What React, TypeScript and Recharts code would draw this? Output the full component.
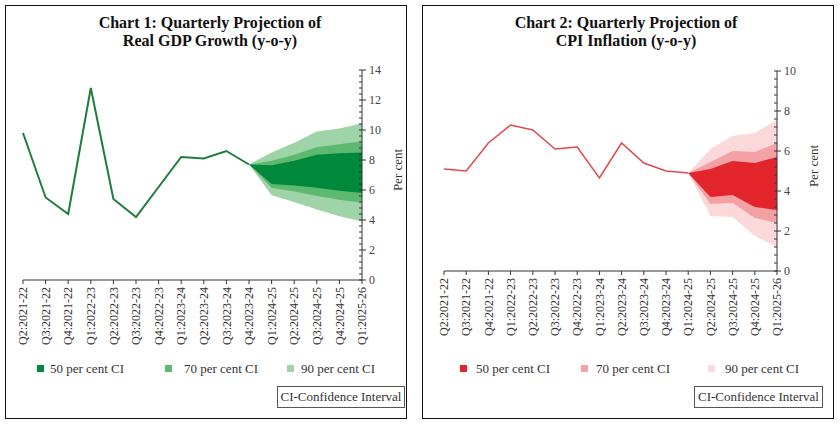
import React from 'react'
import { ComposedChart, Line, Area, XAxis, YAxis } from 'recharts'

const categories = [
  'Q2:2021-22', 'Q3:2021-22', 'Q4:2021-22', 'Q1:2022-23', 'Q2:2022-23', 'Q3:2022-23',
  'Q4:2022-23', 'Q1:2023-24', 'Q2:2023-24', 'Q3:2023-24', 'Q4:2023-24', 'Q1:2024-25',
  'Q2:2024-25', 'Q3:2024-25', 'Q4:2024-25', 'Q1:2025-26',
]

// GDP growth, actuals up to Q4:2023-24
const gdpActual = [9.8, 5.5, 4.4, 12.8, 5.4, 4.2, 6.2, 8.2, 8.1, 8.6, 7.7, null, null, null, null, null]
// fan bands start at Q4:2023-24 (index 10)
const gdpFanStart = 10
const gdp50Low = [7.7, 6.4, 6.3, 6.15, 5.95, 5.8]
const gdp50High = [7.7, 7.65, 7.95, 8.35, 8.45, 8.5]
const gdp70Low = [7.7, 6.15, 5.9, 5.6, 5.35, 5.15]
const gdp70High = [7.7, 7.95, 8.35, 8.85, 9.05, 9.25]
const gdp90Low = [7.7, 5.65, 5.2, 4.7, 4.25, 3.9]
const gdp90High = [7.7, 8.5, 9.15, 9.9, 10.1, 10.45]

// CPI inflation, actuals up to Q1:2024-25
const cpiActual = [5.1, 5.0, 6.4, 7.3, 7.05, 6.1, 6.2, 4.65, 6.4, 5.4, 5.0, 4.9, null, null, null, null]
const cpiFanStart = 11
const cpi50Low = [4.9, 3.7, 3.8, 3.2, 3.05]
const cpi50High = [4.9, 5.1, 5.5, 5.4, 5.7]
const cpi70Low = [4.9, 3.35, 3.4, 2.65, 2.4]
const cpi70High = [4.9, 5.45, 6.0, 5.95, 6.4]
const cpi90Low = [4.9, 2.75, 2.7, 1.75, 1.2]
const cpi90High = [4.9, 6.1, 6.75, 6.9, 7.55]

const gdpMajorTicks = [0, 2, 4, 6, 8, 10, 12, 14]
const cpiMajorTicks = [0, 2, 4, 6, 8, 10]
const minorStep = 0.4

const FONT = '"Liberation Serif", "DejaVu Serif", serif'

const GDP_COLORS = { line: '#1f7d3c', c50: '#00893d', c70: '#5db96f', c90: '#9fd4a9' }
const CPI_COLORS = { line: '#e2484d', c50: '#e1252b', c70: '#f3a1a4', c90: '#fbd9db' }

function band(low: number[], high: number[], start: number, i: number) {
  const k = i - start
  if (k < 0 || k >= low.length) return null
  return [low[k], high[k]]
}

const gdpData = categories.map((cat, i) => ({
  cat,
  actual: gdpActual[i],
  b50: band(gdp50Low, gdp50High, gdpFanStart, i),
  b70: band(gdp70Low, gdp70High, gdpFanStart, i),
  b90: band(gdp90Low, gdp90High, gdpFanStart, i),
}))

const cpiData = categories.map((cat, i) => ({
  cat,
  actual: cpiActual[i],
  b50: band(cpi50Low, cpi50High, cpiFanStart, i),
  b70: band(cpi70Low, cpi70High, cpiFanStart, i),
  b90: band(cpi90Low, cpi90High, cpiFanStart, i),
}))

function allTicks(max: number) {
  const n = Math.round(max / minorStep)
  return Array.from({ length: n + 1 }, (_, i) => +(i * minorStep).toFixed(2))
}

const XTick = (props: any) => {
  const { x, y, payload } = props
  return (
    <text
      x={x}
      y={y + 1}
      transform={`rotate(-90, ${x}, ${y + 1})`}
      textAnchor="end"
      dy="0.35em"
      fontSize={12}
      fontFamily={FONT}
      fill="#333"
    >
      {payload.value}
    </text>
  )
}

const makeYTick = (majors: number[]) => (props: any) => {
  const { x, y, payload } = props
  const isMajor = majors.some((m) => Math.abs(m - payload.value) < 1e-6)
  return (
    <g>
      <line x1={isMajor ? x - 3 : x - 3} x2={isMajor ? x + 4 : x} y1={y} y2={y} stroke="#333" strokeWidth={1} />
      {isMajor && (
        <text x={x + 7} y={y} dy="0.35em" fontSize={12} fontFamily={FONT} fill="#444" textAnchor="start">
          {payload.value}
        </text>
      )}
    </g>
  )
}

interface PanelProps {
  data: any[]
  colors: { line: string; c50: string; c70: string; c90: string }
  majors: number[]
  yMax: number
  left: number
  top: number
  marginLeft: number
  marginBottom: number
  yWidth: number
  lineWidth: number
}

function FanChart({ data, colors, majors, yMax, left, top, marginLeft, marginBottom, yWidth, lineWidth }: PanelProps) {
  return (
    <div style={{ position: 'absolute', left: 0, top: 0 }}>
      <ComposedChart
        width={420}
        height={400}
        data={data}
        margin={{ top, left: marginLeft, right: 0, bottom: marginBottom }}
        style={{ position: 'absolute', left, top: 0 }}
      >
        <XAxis
          dataKey="cat"
          interval={0}
          height={90}
          tick={<XTick />}
          tickSize={4}
          tickMargin={2}
          axisLine={{ stroke: '#333' }}
          tickLine={{ stroke: '#333' }}
        />
        <YAxis
          orientation="right"
          domain={[0, yMax]}
          ticks={allTicks(yMax)}
          interval={0}
          width={yWidth}
          tickSize={0}
          tickMargin={0}
          tickLine={false}
          axisLine={{ stroke: '#333' }}
          tick={makeYTick(majors)}
        />
        <Area dataKey="b90" type="linear" stroke="none" fill={colors.c90} fillOpacity={1} isAnimationActive={false} dot={false} activeDot={false} />
        <Area dataKey="b70" type="linear" stroke="none" fill={colors.c70} fillOpacity={1} isAnimationActive={false} dot={false} activeDot={false} />
        <Area dataKey="b50" type="linear" stroke="none" fill={colors.c50} fillOpacity={1} isAnimationActive={false} dot={false} activeDot={false} />
        <Line dataKey="actual" type="linear" stroke={colors.line} strokeWidth={lineWidth} dot={false} activeDot={false} isAnimationActive={false} />
      </ComposedChart>
    </div>
  )
}

const textStyle: React.CSSProperties = { position: 'absolute', fontFamily: FONT, color: '#222', whiteSpace: 'nowrap' }

function LegendItem({ x, textX, color, label }: { x: number; textX: number; color: string; label: string }) {
  return (
    <>
      <div style={{ position: 'absolute', left: x, top: 365, width: 7, height: 7, background: color }} />
      <div style={{ ...textStyle, left: textX, top: 360, fontSize: 13, lineHeight: '18px', color: '#333' }}>{label}</div>
    </>
  )
}

export default function App() {
  return (
    <div style={{ position: 'absolute', left: 0, top: 0, width: 840, height: 427, background: '#fff', overflow: 'hidden' }}>
      <div style={{ position: 'absolute', left: 5, top: 5, width: 402, height: 414, border: '1.5px solid #111', boxSizing: 'border-box' }} />
      <div style={{ position: 'absolute', left: 422, top: 5, width: 412, height: 414, border: '1.5px solid #111', boxSizing: 'border-box' }} />

      <div style={{ ...textStyle, left: 0, width: 420, top: 14, textAlign: 'center', fontWeight: 'bold', fontSize: 16, lineHeight: '18px', color: '#111' }}>
        Chart 1: Quarterly Projection of
        <br />
        Real GDP Growth (y-o-y)
      </div>
      <div style={{ ...textStyle, left: 420, width: 412, top: 14, textAlign: 'center', fontWeight: 'bold', fontSize: 16, lineHeight: '18px', color: '#111' }}>
        Chart 2: Quarterly Projection of
        <br />
        CPI Inflation (y-o-y)
      </div>

      <FanChart data={gdpData} colors={GDP_COLORS} majors={gdpMajorTicks} yMax={14} left={0} top={70} marginLeft={23} marginBottom={30} yWidth={58} lineWidth={2} />
      <FanChart data={cpiData} colors={CPI_COLORS} majors={cpiMajorTicks} yMax={10} left={420} top={71} marginLeft={24} marginBottom={39} yWidth={63} lineWidth={1.5} />

      <div style={{ ...textStyle, left: 398, top: 170, fontSize: 13, transform: 'translate(-50%, -50%) rotate(-90deg)', color: '#333' }}>Per cent</div>
      <div style={{ ...textStyle, left: 814, top: 166, fontSize: 13, transform: 'translate(-50%, -50%) rotate(-90deg)', color: '#333' }}>Per cent</div>

      <LegendItem x={37} textX={50} color={GDP_COLORS.c50} label="50 per cent CI" />
      <LegendItem x={165} textX={184} color={GDP_COLORS.c70} label="70 per cent CI" />
      <LegendItem x={287} textX={301} color={GDP_COLORS.c90} label="90 per cent CI" />

      <LegendItem x={460} textX={476} color={CPI_COLORS.c50} label="50 per cent CI" />
      <LegendItem x={581} textX={596} color={CPI_COLORS.c70} label="70 per cent CI" />
      <LegendItem x={708} textX={725} color={CPI_COLORS.c90} label="90 per cent CI" />

      <div style={{ ...textStyle, left: 277, top: 386, width: 128, height: 22, border: '1px solid #555', boxSizing: 'border-box', fontSize: 13, lineHeight: '20px', textAlign: 'center', color: '#333' }}>
        CI-Confidence Interval
      </div>
      <div style={{ ...textStyle, left: 694, top: 386, width: 129, height: 22, border: '1px solid #555', boxSizing: 'border-box', fontSize: 13, lineHeight: '20px', textAlign: 'center', color: '#333' }}>
        CI-Confidence Interval
      </div>
    </div>
  )
}
